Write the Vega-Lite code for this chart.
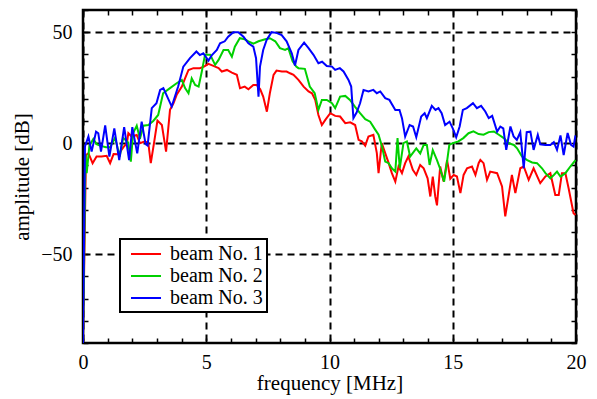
{
  "$schema": "https://vega.github.io/schema/vega-lite/v6.json",
  "width": 493,
  "height": 333,
  "autosize": {"type": "none"},
  "padding": {"left": 83, "top": 10, "right": 21, "bottom": 56},
  "config": {
    "view": {"stroke": "black", "strokeWidth": 2.5},
    "font": "Liberation Serif",
    "axis": {
      "labelFont": "Liberation Serif", "labelFontSize": 20, "labelColor": "black",
      "titleFont": "Liberation Serif", "titleFontSize": 21, "titleFontWeight": "normal", "titleColor": "black",
      "tickColor": "black", "tickWidth": 1.5, "tickSize": -5, "domain": false,
      "gridColor": "black", "gridDash": [7, 5], "gridWidth": 2,
      "labelFlush": false, "labelOverlap": false
    },
    "legend": {"strokeWidth": 2}
  },
  "data": {"values": [
    {"beam":"beam No. 1","freq":0,"amp":-90},{"beam":"beam No. 1","freq":0.12,"amp":-5.3},{"beam":"beam No. 1","freq":0.22,"amp":-4.5},{"beam":"beam No. 1","freq":0.39,"amp":-9},{"beam":"beam No. 1","freq":0.55,"amp":-6},{"beam":"beam No. 1","freq":0.75,"amp":-6},{"beam":"beam No. 1","freq":0.96,"amp":-5.7},{"beam":"beam No. 1","freq":1.1,"amp":-9},{"beam":"beam No. 1","freq":1.24,"amp":-4.9},{"beam":"beam No. 1","freq":1.44,"amp":-5},{"beam":"beam No. 1","freq":1.64,"amp":-1.8},{"beam":"beam No. 1","freq":1.78,"amp":0},{"beam":"beam No. 1","freq":1.84,"amp":4.5},{"beam":"beam No. 1","freq":1.97,"amp":3},{"beam":"beam No. 1","freq":2.18,"amp":3.7},{"beam":"beam No. 1","freq":2.31,"amp":0},{"beam":"beam No. 1","freq":2.52,"amp":0.8},{"beam":"beam No. 1","freq":2.65,"amp":0},{"beam":"beam No. 1","freq":2.75,"amp":-9},{"beam":"beam No. 1","freq":2.88,"amp":0},{"beam":"beam No. 1","freq":3.02,"amp":10.2},{"beam":"beam No. 1","freq":3.2,"amp":8.2},{"beam":"beam No. 1","freq":3.37,"amp":-3.8},{"beam":"beam No. 1","freq":3.53,"amp":15},{"beam":"beam No. 1","freq":3.67,"amp":18},{"beam":"beam No. 1","freq":3.8,"amp":21.8},{"beam":"beam No. 1","freq":4.01,"amp":25.5},{"beam":"beam No. 1","freq":4.14,"amp":29.2},{"beam":"beam No. 1","freq":4.28,"amp":33},{"beam":"beam No. 1","freq":4.48,"amp":33.8},{"beam":"beam No. 1","freq":4.74,"amp":33.8},{"beam":"beam No. 1","freq":4.91,"amp":34.5},{"beam":"beam No. 1","freq":5.09,"amp":35.7},{"beam":"beam No. 1","freq":5.29,"amp":34.8},{"beam":"beam No. 1","freq":5.5,"amp":33.8},{"beam":"beam No. 1","freq":5.63,"amp":32.3},{"beam":"beam No. 1","freq":5.84,"amp":33},{"beam":"beam No. 1","freq":6.04,"amp":31.8},{"beam":"beam No. 1","freq":6.24,"amp":30.8},{"beam":"beam No. 1","freq":6.37,"amp":24.8},{"beam":"beam No. 1","freq":6.56,"amp":25.5},{"beam":"beam No. 1","freq":6.71,"amp":24.3},{"beam":"beam No. 1","freq":6.91,"amp":26.2},{"beam":"beam No. 1","freq":7.05,"amp":26.2},{"beam":"beam No. 1","freq":7.19,"amp":24.3},{"beam":"beam No. 1","freq":7.31,"amp":21},{"beam":"beam No. 1","freq":7.46,"amp":14.2},{"beam":"beam No. 1","freq":7.58,"amp":22.5},{"beam":"beam No. 1","freq":7.73,"amp":30.8},{"beam":"beam No. 1","freq":7.85,"amp":32.7},{"beam":"beam No. 1","freq":8.07,"amp":32.3},{"beam":"beam No. 1","freq":8.26,"amp":32.3},{"beam":"beam No. 1","freq":8.4,"amp":31.5},{"beam":"beam No. 1","freq":8.54,"amp":30.8},{"beam":"beam No. 1","freq":8.74,"amp":28.5},{"beam":"beam No. 1","freq":8.95,"amp":25.5},{"beam":"beam No. 1","freq":9.15,"amp":23.3},{"beam":"beam No. 1","freq":9.29,"amp":22.5},{"beam":"beam No. 1","freq":9.42,"amp":19.5},{"beam":"beam No. 1","freq":9.55,"amp":12.7},{"beam":"beam No. 1","freq":9.69,"amp":8.2},{"beam":"beam No. 1","freq":9.83,"amp":10.5},{"beam":"beam No. 1","freq":10.03,"amp":13.5},{"beam":"beam No. 1","freq":10.23,"amp":12.3},{"beam":"beam No. 1","freq":10.43,"amp":12},{"beam":"beam No. 1","freq":10.64,"amp":9},{"beam":"beam No. 1","freq":10.84,"amp":9.4},{"beam":"beam No. 1","freq":11.04,"amp":8.2},{"beam":"beam No. 1","freq":11.18,"amp":1.5},{"beam":"beam No. 1","freq":11.31,"amp":0.8},{"beam":"beam No. 1","freq":11.45,"amp":-1.1},{"beam":"beam No. 1","freq":11.58,"amp":3},{"beam":"beam No. 1","freq":11.78,"amp":3.8},{"beam":"beam No. 1","freq":11.92,"amp":-4.5},{"beam":"beam No. 1","freq":11.99,"amp":-13.5},{"beam":"beam No. 1","freq":12.12,"amp":0},{"beam":"beam No. 1","freq":12.26,"amp":-4.5},{"beam":"beam No. 1","freq":12.4,"amp":-9},{"beam":"beam No. 1","freq":12.53,"amp":-13.5},{"beam":"beam No. 1","freq":12.67,"amp":-17.3},{"beam":"beam No. 1","freq":12.8,"amp":-10.5},{"beam":"beam No. 1","freq":12.94,"amp":-13.5},{"beam":"beam No. 1","freq":13.07,"amp":-9},{"beam":"beam No. 1","freq":13.2,"amp":-6},{"beam":"beam No. 1","freq":13.38,"amp":-12},{"beam":"beam No. 1","freq":13.52,"amp":-14.3},{"beam":"beam No. 1","freq":13.68,"amp":-9.8},{"beam":"beam No. 1","freq":13.82,"amp":-11.3},{"beam":"beam No. 1","freq":13.98,"amp":-15.8},{"beam":"beam No. 1","freq":14.09,"amp":-24},{"beam":"beam No. 1","freq":14.19,"amp":-15},{"beam":"beam No. 1","freq":14.29,"amp":-24},{"beam":"beam No. 1","freq":14.36,"amp":-28},{"beam":"beam No. 1","freq":14.49,"amp":-10.5},{"beam":"beam No. 1","freq":14.63,"amp":-17.3},{"beam":"beam No. 1","freq":14.77,"amp":-7.6},{"beam":"beam No. 1","freq":14.9,"amp":-16},{"beam":"beam No. 1","freq":15.04,"amp":-14.3},{"beam":"beam No. 1","freq":15.17,"amp":-15},{"beam":"beam No. 1","freq":15.31,"amp":-22.5},{"beam":"beam No. 1","freq":15.44,"amp":-14.3},{"beam":"beam No. 1","freq":15.58,"amp":-11.3},{"beam":"beam No. 1","freq":15.78,"amp":-10.5},{"beam":"beam No. 1","freq":15.92,"amp":-14.3},{"beam":"beam No. 1","freq":16.05,"amp":-9},{"beam":"beam No. 1","freq":16.12,"amp":-7.5},{"beam":"beam No. 1","freq":16.25,"amp":-9},{"beam":"beam No. 1","freq":16.39,"amp":-16.5},{"beam":"beam No. 1","freq":16.52,"amp":-12.8},{"beam":"beam No. 1","freq":16.8,"amp":-13.5},{"beam":"beam No. 1","freq":17.0,"amp":-19.5},{"beam":"beam No. 1","freq":17.13,"amp":-33},{"beam":"beam No. 1","freq":17.4,"amp":-14.3},{"beam":"beam No. 1","freq":17.54,"amp":-22.5},{"beam":"beam No. 1","freq":17.74,"amp":-11.3},{"beam":"beam No. 1","freq":17.88,"amp":-10.5},{"beam":"beam No. 1","freq":18.08,"amp":-16.5},{"beam":"beam No. 1","freq":18.28,"amp":-11.3},{"beam":"beam No. 1","freq":18.55,"amp":-18},{"beam":"beam No. 1","freq":18.76,"amp":-15},{"beam":"beam No. 1","freq":18.96,"amp":-13.5},{"beam":"beam No. 1","freq":19.16,"amp":-23.3},{"beam":"beam No. 1","freq":19.3,"amp":-23.3},{"beam":"beam No. 1","freq":19.43,"amp":-13.5},{"beam":"beam No. 1","freq":19.57,"amp":-13.5},{"beam":"beam No. 1","freq":19.7,"amp":-20.3},{"beam":"beam No. 1","freq":19.9,"amp":-31.5},{"beam":"beam No. 1","freq":19.98,"amp":-32.3},
    {"beam":"beam No. 2","freq":0,"amp":-90},{"beam":"beam No. 2","freq":0.1,"amp":-5},{"beam":"beam No. 2","freq":0.15,"amp":-13.5},{"beam":"beam No. 2","freq":0.26,"amp":-1.1},{"beam":"beam No. 2","freq":0.42,"amp":1.9},{"beam":"beam No. 2","freq":0.55,"amp":-0.4},{"beam":"beam No. 2","freq":0.69,"amp":-1.1},{"beam":"beam No. 2","freq":0.93,"amp":-1.8},{"beam":"beam No. 2","freq":1.1,"amp":-1.8},{"beam":"beam No. 2","freq":1.3,"amp":2.4},{"beam":"beam No. 2","freq":1.49,"amp":-6},{"beam":"beam No. 2","freq":1.63,"amp":2.4},{"beam":"beam No. 2","freq":1.83,"amp":0.3},{"beam":"beam No. 2","freq":1.94,"amp":-8.3},{"beam":"beam No. 2","freq":2.03,"amp":4.4},{"beam":"beam No. 2","freq":2.18,"amp":7.9},{"beam":"beam No. 2","freq":2.31,"amp":2},{"beam":"beam No. 2","freq":2.45,"amp":7.9},{"beam":"beam No. 2","freq":2.65,"amp":8.2},{"beam":"beam No. 2","freq":2.85,"amp":10},{"beam":"beam No. 2","freq":3.05,"amp":12.7},{"beam":"beam No. 2","freq":3.25,"amp":22.5},{"beam":"beam No. 2","freq":3.53,"amp":24.8},{"beam":"beam No. 2","freq":3.8,"amp":27},{"beam":"beam No. 2","freq":4.01,"amp":28.5},{"beam":"beam No. 2","freq":4.14,"amp":24.8},{"beam":"beam No. 2","freq":4.28,"amp":22.5},{"beam":"beam No. 2","freq":4.41,"amp":29.2},{"beam":"beam No. 2","freq":4.55,"amp":26.2},{"beam":"beam No. 2","freq":4.69,"amp":25.5},{"beam":"beam No. 2","freq":4.82,"amp":32.3},{"beam":"beam No. 2","freq":4.95,"amp":39.8},{"beam":"beam No. 2","freq":5.16,"amp":39.8},{"beam":"beam No. 2","freq":5.36,"amp":35.3},{"beam":"beam No. 2","freq":5.5,"amp":37.5},{"beam":"beam No. 2","freq":5.7,"amp":42},{"beam":"beam No. 2","freq":5.89,"amp":42},{"beam":"beam No. 2","freq":6.04,"amp":39},{"beam":"beam No. 2","freq":6.16,"amp":43.5},{"beam":"beam No. 2","freq":6.36,"amp":47.3},{"beam":"beam No. 2","freq":6.56,"amp":46.8},{"beam":"beam No. 2","freq":6.71,"amp":45.9},{"beam":"beam No. 2","freq":6.91,"amp":44.8},{"beam":"beam No. 2","freq":7.12,"amp":45.9},{"beam":"beam No. 2","freq":7.39,"amp":46.8},{"beam":"beam No. 2","freq":7.58,"amp":47.3},{"beam":"beam No. 2","freq":7.8,"amp":45.9},{"beam":"beam No. 2","freq":7.99,"amp":42.8},{"beam":"beam No. 2","freq":8.2,"amp":42},{"beam":"beam No. 2","freq":8.33,"amp":42.8},{"beam":"beam No. 2","freq":8.5,"amp":37},{"beam":"beam No. 2","freq":8.65,"amp":34.5},{"beam":"beam No. 2","freq":8.74,"amp":33.8},{"beam":"beam No. 2","freq":9.0,"amp":33.5},{"beam":"beam No. 2","freq":9.2,"amp":25.5},{"beam":"beam No. 2","freq":9.4,"amp":22.5},{"beam":"beam No. 2","freq":9.55,"amp":15},{"beam":"beam No. 2","freq":9.69,"amp":19.5},{"beam":"beam No. 2","freq":9.89,"amp":19.5},{"beam":"beam No. 2","freq":10.1,"amp":18},{"beam":"beam No. 2","freq":10.23,"amp":15.8},{"beam":"beam No. 2","freq":10.43,"amp":21},{"beam":"beam No. 2","freq":10.64,"amp":21.3},{"beam":"beam No. 2","freq":10.83,"amp":19.5},{"beam":"beam No. 2","freq":11.03,"amp":16.5},{"beam":"beam No. 2","freq":11.24,"amp":13.5},{"beam":"beam No. 2","freq":11.45,"amp":10.8},{"beam":"beam No. 2","freq":11.65,"amp":9.7},{"beam":"beam No. 2","freq":11.86,"amp":6},{"beam":"beam No. 2","freq":11.99,"amp":3.8},{"beam":"beam No. 2","freq":12.13,"amp":-1.5},{"beam":"beam No. 2","freq":12.26,"amp":-8.3},{"beam":"beam No. 2","freq":12.4,"amp":-9},{"beam":"beam No. 2","freq":12.53,"amp":-11.3},{"beam":"beam No. 2","freq":12.67,"amp":-12.8},{"beam":"beam No. 2","freq":12.76,"amp":2.3},{"beam":"beam No. 2","freq":12.85,"amp":-11.3},{"beam":"beam No. 2","freq":13.0,"amp":0},{"beam":"beam No. 2","freq":13.14,"amp":0.8},{"beam":"beam No. 2","freq":13.27,"amp":-6},{"beam":"beam No. 2","freq":13.52,"amp":-2.3},{"beam":"beam No. 2","freq":13.68,"amp":-4.6},{"beam":"beam No. 2","freq":13.82,"amp":-0.8},{"beam":"beam No. 2","freq":13.95,"amp":-0.8},{"beam":"beam No. 2","freq":14.06,"amp":-9.8},{"beam":"beam No. 2","freq":14.19,"amp":-3.1},{"beam":"beam No. 2","freq":14.36,"amp":-7.6},{"beam":"beam No. 2","freq":14.48,"amp":-11.3},{"beam":"beam No. 2","freq":14.65,"amp":-17.3},{"beam":"beam No. 2","freq":14.76,"amp":-9},{"beam":"beam No. 2","freq":14.86,"amp":-0.8},{"beam":"beam No. 2","freq":15.0,"amp":0},{"beam":"beam No. 2","freq":15.23,"amp":0.8},{"beam":"beam No. 2","freq":15.43,"amp":2.3},{"beam":"beam No. 2","freq":15.64,"amp":4.5},{"beam":"beam No. 2","freq":15.84,"amp":5.3},{"beam":"beam No. 2","freq":16.05,"amp":4.1},{"beam":"beam No. 2","freq":16.25,"amp":3.8},{"beam":"beam No. 2","freq":16.46,"amp":5},{"beam":"beam No. 2","freq":16.67,"amp":5.3},{"beam":"beam No. 2","freq":16.87,"amp":3.8},{"beam":"beam No. 2","freq":17.07,"amp":2.3},{"beam":"beam No. 2","freq":17.27,"amp":0},{"beam":"beam No. 2","freq":17.48,"amp":-0.8},{"beam":"beam No. 2","freq":17.61,"amp":-2.3},{"beam":"beam No. 2","freq":17.81,"amp":-6},{"beam":"beam No. 2","freq":18.02,"amp":-7.6},{"beam":"beam No. 2","freq":18.22,"amp":-8.7},{"beam":"beam No. 2","freq":18.42,"amp":-9},{"beam":"beam No. 2","freq":18.62,"amp":-11.3},{"beam":"beam No. 2","freq":18.76,"amp":-13.5},{"beam":"beam No. 2","freq":18.96,"amp":-15.8},{"beam":"beam No. 2","freq":19.1,"amp":-14.3},{"beam":"beam No. 2","freq":19.23,"amp":-12.8},{"beam":"beam No. 2","freq":19.37,"amp":-15},{"beam":"beam No. 2","freq":19.57,"amp":-13.5},{"beam":"beam No. 2","freq":19.77,"amp":-10.5},{"beam":"beam No. 2","freq":19.98,"amp":-7.6},
    {"beam":"beam No. 3","freq":0,"amp":-90},{"beam":"beam No. 3","freq":0.08,"amp":-1.5},{"beam":"beam No. 3","freq":0.22,"amp":3},{"beam":"beam No. 3","freq":0.35,"amp":-3.8},{"beam":"beam No. 3","freq":0.53,"amp":5.2},{"beam":"beam No. 3","freq":0.62,"amp":4.5},{"beam":"beam No. 3","freq":0.73,"amp":-3.8},{"beam":"beam No. 3","freq":0.9,"amp":8},{"beam":"beam No. 3","freq":1.07,"amp":-6},{"beam":"beam No. 3","freq":1.27,"amp":6.7},{"beam":"beam No. 3","freq":1.47,"amp":-7.6},{"beam":"beam No. 3","freq":1.67,"amp":7.2},{"beam":"beam No. 3","freq":1.87,"amp":-7.6},{"beam":"beam No. 3","freq":2.0,"amp":7.2},{"beam":"beam No. 3","freq":2.2,"amp":-4.6},{"beam":"beam No. 3","freq":2.38,"amp":9.7},{"beam":"beam No. 3","freq":2.54,"amp":-0.4},{"beam":"beam No. 3","freq":2.62,"amp":-1},{"beam":"beam No. 3","freq":2.79,"amp":15.8},{"beam":"beam No. 3","freq":2.98,"amp":18},{"beam":"beam No. 3","freq":3.13,"amp":24},{"beam":"beam No. 3","freq":3.26,"amp":24.8},{"beam":"beam No. 3","freq":3.6,"amp":16.5},{"beam":"beam No. 3","freq":3.86,"amp":25.5},{"beam":"beam No. 3","freq":4.07,"amp":34.5},{"beam":"beam No. 3","freq":4.34,"amp":38.3},{"beam":"beam No. 3","freq":4.6,"amp":41.3},{"beam":"beam No. 3","freq":4.74,"amp":39.7},{"beam":"beam No. 3","freq":4.88,"amp":40.5},{"beam":"beam No. 3","freq":5.09,"amp":37.2},{"beam":"beam No. 3","freq":5.23,"amp":39.7},{"beam":"beam No. 3","freq":5.43,"amp":42},{"beam":"beam No. 3","freq":5.56,"amp":45},{"beam":"beam No. 3","freq":5.75,"amp":45.9},{"beam":"beam No. 3","freq":5.89,"amp":48},{"beam":"beam No. 3","freq":6.1,"amp":50},{"beam":"beam No. 3","freq":6.3,"amp":50},{"beam":"beam No. 3","freq":6.51,"amp":48},{"beam":"beam No. 3","freq":6.71,"amp":45},{"beam":"beam No. 3","freq":6.91,"amp":43.5},{"beam":"beam No. 3","freq":7.02,"amp":38.3},{"beam":"beam No. 3","freq":7.12,"amp":21},{"beam":"beam No. 3","freq":7.18,"amp":34.5},{"beam":"beam No. 3","freq":7.31,"amp":42},{"beam":"beam No. 3","freq":7.45,"amp":46.5},{"beam":"beam No. 3","freq":7.65,"amp":50},{"beam":"beam No. 3","freq":7.85,"amp":49.7},{"beam":"beam No. 3","freq":8.06,"amp":48.7},{"beam":"beam No. 3","freq":8.26,"amp":45.9},{"beam":"beam No. 3","freq":8.47,"amp":40.5},{"beam":"beam No. 3","freq":8.6,"amp":35},{"beam":"beam No. 3","freq":8.74,"amp":42},{"beam":"beam No. 3","freq":8.97,"amp":45.3},{"beam":"beam No. 3","freq":9.15,"amp":42.8},{"beam":"beam No. 3","freq":9.35,"amp":39.8},{"beam":"beam No. 3","freq":9.55,"amp":36},{"beam":"beam No. 3","freq":9.7,"amp":36.7},{"beam":"beam No. 3","freq":9.89,"amp":34.8},{"beam":"beam No. 3","freq":10.1,"amp":34.5},{"beam":"beam No. 3","freq":10.23,"amp":33},{"beam":"beam No. 3","freq":10.42,"amp":33.8},{"beam":"beam No. 3","freq":10.57,"amp":32.3},{"beam":"beam No. 3","freq":10.77,"amp":28.5},{"beam":"beam No. 3","freq":10.88,"amp":25.5},{"beam":"beam No. 3","freq":10.97,"amp":11.3},{"beam":"beam No. 3","freq":11.1,"amp":13.8},{"beam":"beam No. 3","freq":11.24,"amp":18},{"beam":"beam No. 3","freq":11.38,"amp":24},{"beam":"beam No. 3","freq":11.58,"amp":23.3},{"beam":"beam No. 3","freq":11.78,"amp":24},{"beam":"beam No. 3","freq":11.92,"amp":22.5},{"beam":"beam No. 3","freq":12.06,"amp":23.3},{"beam":"beam No. 3","freq":12.26,"amp":20.3},{"beam":"beam No. 3","freq":12.43,"amp":19.5},{"beam":"beam No. 3","freq":12.67,"amp":15},{"beam":"beam No. 3","freq":12.84,"amp":15},{"beam":"beam No. 3","freq":12.94,"amp":11.3},{"beam":"beam No. 3","freq":13.07,"amp":3},{"beam":"beam No. 3","freq":13.25,"amp":8.2},{"beam":"beam No. 3","freq":13.39,"amp":7.5},{"beam":"beam No. 3","freq":13.52,"amp":2.7},{"beam":"beam No. 3","freq":13.72,"amp":12},{"beam":"beam No. 3","freq":13.86,"amp":13.5},{"beam":"beam No. 3","freq":13.95,"amp":11.3},{"beam":"beam No. 3","freq":14.15,"amp":16.8},{"beam":"beam No. 3","freq":14.3,"amp":15},{"beam":"beam No. 3","freq":14.42,"amp":15.8},{"beam":"beam No. 3","freq":14.55,"amp":13.5},{"beam":"beam No. 3","freq":14.69,"amp":8.2},{"beam":"beam No. 3","freq":14.87,"amp":9.7},{"beam":"beam No. 3","freq":15.0,"amp":6.7},{"beam":"beam No. 3","freq":15.14,"amp":2.7},{"beam":"beam No. 3","freq":15.28,"amp":7.5},{"beam":"beam No. 3","freq":15.41,"amp":15},{"beam":"beam No. 3","freq":15.57,"amp":15.8},{"beam":"beam No. 3","freq":15.82,"amp":18},{"beam":"beam No. 3","freq":15.98,"amp":15.8},{"beam":"beam No. 3","freq":16.15,"amp":16.8},{"beam":"beam No. 3","freq":16.32,"amp":14.3},{"beam":"beam No. 3","freq":16.46,"amp":11.3},{"beam":"beam No. 3","freq":16.6,"amp":12.3},{"beam":"beam No. 3","freq":16.8,"amp":5.2},{"beam":"beam No. 3","freq":16.93,"amp":7.5},{"beam":"beam No. 3","freq":17.05,"amp":6.7},{"beam":"beam No. 3","freq":17.17,"amp":-3},{"beam":"beam No. 3","freq":17.34,"amp":7.5},{"beam":"beam No. 3","freq":17.47,"amp":3},{"beam":"beam No. 3","freq":17.6,"amp":1.5},{"beam":"beam No. 3","freq":17.74,"amp":5},{"beam":"beam No. 3","freq":17.88,"amp":-11.3},{"beam":"beam No. 3","freq":18.0,"amp":5},{"beam":"beam No. 3","freq":18.15,"amp":5.2},{"beam":"beam No. 3","freq":18.28,"amp":-3},{"beam":"beam No. 3","freq":18.45,"amp":3.8},{"beam":"beam No. 3","freq":18.55,"amp":-0.5},{"beam":"beam No. 3","freq":18.76,"amp":-0.8},{"beam":"beam No. 3","freq":18.96,"amp":-0.8},{"beam":"beam No. 3","freq":19.1,"amp":0.5},{"beam":"beam No. 3","freq":19.23,"amp":-3},{"beam":"beam No. 3","freq":19.37,"amp":3.5},{"beam":"beam No. 3","freq":19.5,"amp":-5.3},{"beam":"beam No. 3","freq":19.66,"amp":4.6},{"beam":"beam No. 3","freq":19.8,"amp":-0.8},{"beam":"beam No. 3","freq":19.9,"amp":-1.5},{"beam":"beam No. 3","freq":19.98,"amp":3.5}
  ]},
  "layer": [
    {
      "mark": {"type": "line", "strokeWidth": 2, "clip": true},
      "encoding": {
        "x": {"field": "freq", "type": "quantitative",
          "scale": {"domain": [0, 20], "nice": false, "zero": false},
          "axis": {"orient": "bottom", "values": [0,1,2,3,4,5,6,7,8,9,10,11,12,13,14,15,16,17,18,19,20],
            "labelExpr": "datum.value % 5 === 0 ? datum.label : ''",
            "gridOpacity": {"condition": {"test": "datum.value % 5 === 0", "value": 1}, "value": 0},
            "grid": true, "labelPadding": 14,
            "title": "frequency [MHz]", "titleBaseline": "alphabetic", "titleX": 246.5, "titleY": 46}},
        "y": {"field": "amp", "type": "quantitative",
          "scale": {"domain": [-90, 60], "nice": false, "zero": false},
          "axis": {"orient": "left", "values": [-90,-80,-70,-60,-50,-40,-30,-20,-10,0,10,20,30,40,50,60],
            "labelExpr": "datum.value % 50 === 0 ? datum.label : ''",
            "gridOpacity": {"condition": {"test": "datum.value % 50 === 0", "value": 1}, "value": 0},
            "grid": true, "labelPadding": 16,
            "title": "amplitude [dB]", "titleBaseline": "alphabetic", "titleX": -55, "titleY": 166.5}},
        "color": {"field": "beam", "type": "nominal",
          "scale": {"domain": ["beam No. 1", "beam No. 2", "beam No. 3"], "range": ["#ff0000", "#00d000", "#0000ff"]},
          "legend": {"orient": "none", "legendX": 37, "legendY": 229, "title": null,
            "symbolType": "M-1.5,0H1.5", "symbolSize": 400, "symbolStrokeWidth": 2,
            "labelFont": "Liberation Serif", "labelFontSize": 20, "labelColor": "black",
            "padding": 4, "rowPadding": 1, "symbolOffset": 11, "labelOffset": 13,
            "strokeColor": "black", "fillColor": "white", "cornerRadius": 0}}
      }
    },
    {
      "mark": {"type": "point", "opacity": 0},
      "encoding": {
        "x": {"field": "freq", "type": "quantitative",
          "axis": {"orient": "top", "values": [0,1,2,3,4,5,6,7,8,9,10,11,12,13,14,15,16,17,18,19,20],
            "labels": false, "grid": false, "title": null}},
        "y": {"field": "amp", "type": "quantitative",
          "axis": {"orient": "right", "values": [-90,-80,-70,-60,-50,-40,-30,-20,-10,0,10,20,30,40,50,60],
            "labels": false, "grid": false, "title": null}}
      }
    }
  ],
  "resolve": {"axis": {"x": "independent", "y": "independent"}}
}
